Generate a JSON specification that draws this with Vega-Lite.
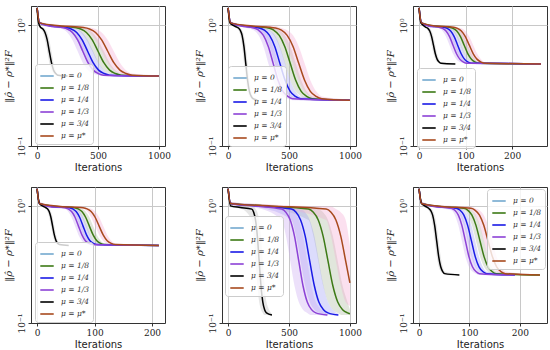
{
"$schema":"https://vega.github.io/schema/vega-lite/v6.json",
"padding":{"left":2,"top":4,"right":2,"bottom":2},
"datasets":{"d":[
{"p":1,"m":"μ = 1/8","x":0,"y":1.4,"lo":1.36,"hi":1.44},{"p":1,"m":"μ = 1/8","x":20,"y":1.05,"lo":1.02,"hi":1.08},{"p":1,"m":"μ = 1/8","x":150,"y":0.99,"lo":0.97,"hi":1.01},
{"p":1,"m":"μ = 1/8","x":310,"y":0.961,"lo":0.935,"hi":0.99},{"p":1,"m":"μ = 1/8","x":358,"y":0.935,"lo":0.875,"hi":0.961},{"p":1,"m":"μ = 1/8","x":405,"y":0.875,"lo":0.759,"hi":0.935},{"p":1,"m":"μ = 1/8","x":453,"y":0.759,"lo":0.611,"hi":0.875},{"p":1,"m":"μ = 1/8","x":500,"y":0.611,"lo":0.491,"hi":0.759},{"p":1,"m":"μ = 1/8","x":548,"y":0.491,"lo":0.426,"hi":0.611},{"p":1,"m":"μ = 1/8","x":595,"y":0.426,"lo":0.399,"hi":0.491},{"p":1,"m":"μ = 1/8","x":643,"y":0.399,"lo":0.387,"hi":0.426},{"p":1,"m":"μ = 1/8","x":690,"y":0.387,"lo":0.38,"hi":0.399},{"p":1,"m":"μ = 1/8","x":1000,"y":0.38,"lo":0.375,"hi":0.385},
{"p":1,"m":"μ = 1/4","x":0,"y":1.4,"lo":1.36,"hi":1.44},{"p":1,"m":"μ = 1/4","x":20,"y":1.05,"lo":1.02,"hi":1.08},{"p":1,"m":"μ = 1/4","x":120,"y":0.99,"lo":0.97,"hi":1.01},
{"p":1,"m":"μ = 1/4","x":235,"y":0.961,"lo":0.935,"hi":0.99},{"p":1,"m":"μ = 1/4","x":280,"y":0.935,"lo":0.875,"hi":0.961},{"p":1,"m":"μ = 1/4","x":325,"y":0.875,"lo":0.759,"hi":0.935},{"p":1,"m":"μ = 1/4","x":370,"y":0.759,"lo":0.611,"hi":0.875},{"p":1,"m":"μ = 1/4","x":415,"y":0.611,"lo":0.491,"hi":0.759},{"p":1,"m":"μ = 1/4","x":460,"y":0.491,"lo":0.426,"hi":0.611},{"p":1,"m":"μ = 1/4","x":505,"y":0.426,"lo":0.399,"hi":0.491},{"p":1,"m":"μ = 1/4","x":550,"y":0.399,"lo":0.387,"hi":0.426},{"p":1,"m":"μ = 1/4","x":595,"y":0.387,"lo":0.38,"hi":0.399},{"p":1,"m":"μ = 1/4","x":1000,"y":0.38,"lo":0.375,"hi":0.385},
{"p":1,"m":"μ = 1/3","x":0,"y":1.4,"lo":1.36,"hi":1.44},{"p":1,"m":"μ = 1/3","x":20,"y":1.05,"lo":1.02,"hi":1.08},{"p":1,"m":"μ = 1/3","x":100,"y":0.99,"lo":0.97,"hi":1.01},
{"p":1,"m":"μ = 1/3","x":205,"y":0.961,"lo":0.935,"hi":0.99},{"p":1,"m":"μ = 1/3","x":248,"y":0.935,"lo":0.875,"hi":0.961},{"p":1,"m":"μ = 1/3","x":290,"y":0.875,"lo":0.759,"hi":0.935},{"p":1,"m":"μ = 1/3","x":333,"y":0.759,"lo":0.611,"hi":0.875},{"p":1,"m":"μ = 1/3","x":375,"y":0.611,"lo":0.491,"hi":0.759},{"p":1,"m":"μ = 1/3","x":418,"y":0.491,"lo":0.426,"hi":0.611},{"p":1,"m":"μ = 1/3","x":460,"y":0.426,"lo":0.399,"hi":0.491},{"p":1,"m":"μ = 1/3","x":503,"y":0.399,"lo":0.387,"hi":0.426},{"p":1,"m":"μ = 1/3","x":545,"y":0.387,"lo":0.38,"hi":0.399},{"p":1,"m":"μ = 1/3","x":1000,"y":0.38,"lo":0.375,"hi":0.385},
{"p":1,"m":"μ = 3/4","x":0,"y":1.4,"lo":1.36,"hi":1.44},{"p":1,"m":"μ = 3/4","x":12,"y":1.05,"lo":1.02,"hi":1.08},
{"p":1,"m":"μ = 3/4","x":30,"y":0.961,"lo":0.935,"hi":0.99},{"p":1,"m":"μ = 3/4","x":48,"y":0.935,"lo":0.875,"hi":0.961},{"p":1,"m":"μ = 3/4","x":65,"y":0.875,"lo":0.759,"hi":0.935},{"p":1,"m":"μ = 3/4","x":83,"y":0.759,"lo":0.611,"hi":0.875},{"p":1,"m":"μ = 3/4","x":100,"y":0.611,"lo":0.491,"hi":0.759},{"p":1,"m":"μ = 3/4","x":118,"y":0.491,"lo":0.426,"hi":0.611},{"p":1,"m":"μ = 3/4","x":135,"y":0.426,"lo":0.399,"hi":0.491},{"p":1,"m":"μ = 3/4","x":153,"y":0.399,"lo":0.387,"hi":0.426},{"p":1,"m":"μ = 3/4","x":170,"y":0.387,"lo":0.38,"hi":0.399},{"p":1,"m":"μ = 3/4","x":250,"y":0.38,"lo":0.375,"hi":0.385},
{"p":1,"m":"μ = μ*","x":0,"y":1.4,"lo":1.36,"hi":1.44},{"p":1,"m":"μ = μ*","x":20,"y":1.05,"lo":1.02,"hi":1.08},{"p":1,"m":"μ = μ*","x":200,"y":0.99,"lo":0.97,"hi":1.01},
{"p":1,"m":"μ = μ*","x":380,"y":0.961,"lo":0.935,"hi":0.99},{"p":1,"m":"μ = μ*","x":430,"y":0.935,"lo":0.875,"hi":0.961},{"p":1,"m":"μ = μ*","x":480,"y":0.875,"lo":0.759,"hi":0.935},{"p":1,"m":"μ = μ*","x":530,"y":0.759,"lo":0.611,"hi":0.875},{"p":1,"m":"μ = μ*","x":580,"y":0.611,"lo":0.491,"hi":0.759},{"p":1,"m":"μ = μ*","x":630,"y":0.491,"lo":0.426,"hi":0.611},{"p":1,"m":"μ = μ*","x":680,"y":0.426,"lo":0.399,"hi":0.491},{"p":1,"m":"μ = μ*","x":730,"y":0.399,"lo":0.387,"hi":0.426},{"p":1,"m":"μ = μ*","x":780,"y":0.387,"lo":0.38,"hi":0.399},{"p":1,"m":"μ = μ*","x":1000,"y":0.38,"lo":0.375,"hi":0.385},

{"p":2,"m":"μ = 1/8","x":0,"y":1.4,"lo":1.36,"hi":1.44},{"p":2,"m":"μ = 1/8","x":20,"y":1.05,"lo":1.02,"hi":1.08},{"p":2,"m":"μ = 1/8","x":150,"y":0.99,"lo":0.97,"hi":1.01},
{"p":2,"m":"μ = 1/8","x":330,"y":0.953,"lo":0.913,"hi":0.99},{"p":2,"m":"μ = 1/8","x":375,"y":0.913,"lo":0.828,"hi":0.953},{"p":2,"m":"μ = 1/8","x":420,"y":0.828,"lo":0.67,"hi":0.913},{"p":2,"m":"μ = 1/8","x":465,"y":0.67,"lo":0.485,"hi":0.828},{"p":2,"m":"μ = 1/8","x":510,"y":0.485,"lo":0.351,"hi":0.67},{"p":2,"m":"μ = 1/8","x":555,"y":0.351,"lo":0.284,"hi":0.485},{"p":2,"m":"μ = 1/8","x":600,"y":0.284,"lo":0.258,"hi":0.351},{"p":2,"m":"μ = 1/8","x":645,"y":0.258,"lo":0.247,"hi":0.284},{"p":2,"m":"μ = 1/8","x":690,"y":0.247,"lo":0.24,"hi":0.258},{"p":2,"m":"μ = 1/8","x":1000,"y":0.24,"lo":0.236,"hi":0.244},
{"p":2,"m":"μ = 1/4","x":0,"y":1.4,"lo":1.36,"hi":1.44},{"p":2,"m":"μ = 1/4","x":20,"y":1.05,"lo":1.02,"hi":1.08},{"p":2,"m":"μ = 1/4","x":130,"y":0.99,"lo":0.97,"hi":1.01},
{"p":2,"m":"μ = 1/4","x":255,"y":0.953,"lo":0.913,"hi":0.99},{"p":2,"m":"μ = 1/4","x":298,"y":0.913,"lo":0.828,"hi":0.953},{"p":2,"m":"μ = 1/4","x":340,"y":0.828,"lo":0.67,"hi":0.913},{"p":2,"m":"μ = 1/4","x":383,"y":0.67,"lo":0.485,"hi":0.828},{"p":2,"m":"μ = 1/4","x":425,"y":0.485,"lo":0.351,"hi":0.67},{"p":2,"m":"μ = 1/4","x":468,"y":0.351,"lo":0.284,"hi":0.485},{"p":2,"m":"μ = 1/4","x":510,"y":0.284,"lo":0.258,"hi":0.351},{"p":2,"m":"μ = 1/4","x":553,"y":0.258,"lo":0.247,"hi":0.284},{"p":2,"m":"μ = 1/4","x":595,"y":0.247,"lo":0.24,"hi":0.258},{"p":2,"m":"μ = 1/4","x":1000,"y":0.24,"lo":0.236,"hi":0.244},
{"p":2,"m":"μ = 1/3","x":0,"y":1.4,"lo":1.36,"hi":1.44},{"p":2,"m":"μ = 1/3","x":20,"y":1.05,"lo":1.02,"hi":1.08},{"p":2,"m":"μ = 1/3","x":110,"y":0.99,"lo":0.97,"hi":1.01},
{"p":2,"m":"μ = 1/3","x":210,"y":0.953,"lo":0.913,"hi":0.99},{"p":2,"m":"μ = 1/3","x":250,"y":0.913,"lo":0.828,"hi":0.953},{"p":2,"m":"μ = 1/3","x":290,"y":0.828,"lo":0.67,"hi":0.913},{"p":2,"m":"μ = 1/3","x":330,"y":0.67,"lo":0.485,"hi":0.828},{"p":2,"m":"μ = 1/3","x":370,"y":0.485,"lo":0.351,"hi":0.67},{"p":2,"m":"μ = 1/3","x":410,"y":0.351,"lo":0.284,"hi":0.485},{"p":2,"m":"μ = 1/3","x":450,"y":0.284,"lo":0.258,"hi":0.351},{"p":2,"m":"μ = 1/3","x":490,"y":0.258,"lo":0.247,"hi":0.284},{"p":2,"m":"μ = 1/3","x":530,"y":0.247,"lo":0.24,"hi":0.258},{"p":2,"m":"μ = 1/3","x":1000,"y":0.24,"lo":0.236,"hi":0.244},
{"p":2,"m":"μ = 3/4","x":0,"y":1.4,"lo":1.36,"hi":1.44},{"p":2,"m":"μ = 3/4","x":15,"y":1.05,"lo":1.02,"hi":1.08},{"p":2,"m":"μ = 3/4","x":50,"y":0.99,"lo":0.97,"hi":1.01},
{"p":2,"m":"μ = 3/4","x":85,"y":0.953,"lo":0.913,"hi":0.99},{"p":2,"m":"μ = 3/4","x":100,"y":0.913,"lo":0.828,"hi":0.953},{"p":2,"m":"μ = 3/4","x":115,"y":0.828,"lo":0.67,"hi":0.913},{"p":2,"m":"μ = 3/4","x":130,"y":0.67,"lo":0.485,"hi":0.828},{"p":2,"m":"μ = 3/4","x":145,"y":0.485,"lo":0.351,"hi":0.67},{"p":2,"m":"μ = 3/4","x":160,"y":0.351,"lo":0.284,"hi":0.485},{"p":2,"m":"μ = 3/4","x":175,"y":0.284,"lo":0.258,"hi":0.351},{"p":2,"m":"μ = 3/4","x":190,"y":0.258,"lo":0.247,"hi":0.284},{"p":2,"m":"μ = 3/4","x":205,"y":0.247,"lo":0.24,"hi":0.258},{"p":2,"m":"μ = 3/4","x":240,"y":0.24,"lo":0.236,"hi":0.244},
{"p":2,"m":"μ = μ*","x":0,"y":1.4,"lo":1.36,"hi":1.44},{"p":2,"m":"μ = μ*","x":20,"y":1.05,"lo":1.02,"hi":1.08},{"p":2,"m":"μ = μ*","x":200,"y":0.99,"lo":0.97,"hi":1.01},
{"p":2,"m":"μ = μ*","x":390,"y":0.953,"lo":0.913,"hi":0.99},{"p":2,"m":"μ = μ*","x":438,"y":0.913,"lo":0.828,"hi":0.953},{"p":2,"m":"μ = μ*","x":485,"y":0.828,"lo":0.67,"hi":0.913},{"p":2,"m":"μ = μ*","x":533,"y":0.67,"lo":0.485,"hi":0.828},{"p":2,"m":"μ = μ*","x":580,"y":0.485,"lo":0.351,"hi":0.67},{"p":2,"m":"μ = μ*","x":628,"y":0.351,"lo":0.284,"hi":0.485},{"p":2,"m":"μ = μ*","x":675,"y":0.284,"lo":0.258,"hi":0.351},{"p":2,"m":"μ = μ*","x":723,"y":0.258,"lo":0.247,"hi":0.284},{"p":2,"m":"μ = μ*","x":770,"y":0.247,"lo":0.24,"hi":0.258},{"p":2,"m":"μ = μ*","x":1000,"y":0.24,"lo":0.236,"hi":0.244},

{"p":3,"m":"μ = 1/8","x":0,"y":1.4,"lo":1.36,"hi":1.44},{"p":3,"m":"μ = 1/8","x":5,"y":1.05,"lo":1.02,"hi":1.08},{"p":3,"m":"μ = 1/8","x":30,"y":0.99,"lo":0.97,"hi":1.01},
{"p":3,"m":"μ = 1/8","x":65,"y":0.966,"lo":0.946,"hi":0.99},{"p":3,"m":"μ = 1/8","x":73,"y":0.946,"lo":0.899,"hi":0.966},{"p":3,"m":"μ = 1/8","x":81,"y":0.899,"lo":0.807,"hi":0.946},{"p":3,"m":"μ = 1/8","x":89,"y":0.807,"lo":0.686,"hi":0.899},{"p":3,"m":"μ = 1/8","x":97,"y":0.686,"lo":0.582,"hi":0.807},{"p":3,"m":"μ = 1/8","x":105,"y":0.582,"lo":0.523,"hi":0.686},{"p":3,"m":"μ = 1/8","x":113,"y":0.523,"lo":0.497,"hi":0.582},{"p":3,"m":"μ = 1/8","x":121,"y":0.497,"lo":0.486,"hi":0.523},{"p":3,"m":"μ = 1/8","x":129,"y":0.486,"lo":0.48,"hi":0.497},{"p":3,"m":"μ = 1/8","x":262,"y":0.48,"lo":0.474,"hi":0.486},
{"p":3,"m":"μ = 1/4","x":0,"y":1.4,"lo":1.36,"hi":1.44},{"p":3,"m":"μ = 1/4","x":5,"y":1.05,"lo":1.02,"hi":1.08},{"p":3,"m":"μ = 1/4","x":25,"y":0.99,"lo":0.97,"hi":1.01},
{"p":3,"m":"μ = 1/4","x":53,"y":0.966,"lo":0.946,"hi":0.99},{"p":3,"m":"μ = 1/4","x":60.5,"y":0.946,"lo":0.899,"hi":0.966},{"p":3,"m":"μ = 1/4","x":68,"y":0.899,"lo":0.807,"hi":0.946},{"p":3,"m":"μ = 1/4","x":75.5,"y":0.807,"lo":0.686,"hi":0.899},{"p":3,"m":"μ = 1/4","x":83,"y":0.686,"lo":0.582,"hi":0.807},{"p":3,"m":"μ = 1/4","x":90.5,"y":0.582,"lo":0.523,"hi":0.686},{"p":3,"m":"μ = 1/4","x":98,"y":0.523,"lo":0.497,"hi":0.582},{"p":3,"m":"μ = 1/4","x":105.5,"y":0.497,"lo":0.486,"hi":0.523},{"p":3,"m":"μ = 1/4","x":113,"y":0.486,"lo":0.48,"hi":0.497},{"p":3,"m":"μ = 1/4","x":262,"y":0.48,"lo":0.474,"hi":0.486},
{"p":3,"m":"μ = 1/3","x":0,"y":1.4,"lo":1.36,"hi":1.44},{"p":3,"m":"μ = 1/3","x":5,"y":1.05,"lo":1.02,"hi":1.08},{"p":3,"m":"μ = 1/3","x":20,"y":0.99,"lo":0.97,"hi":1.01},
{"p":3,"m":"μ = 1/3","x":43,"y":0.966,"lo":0.946,"hi":0.99},{"p":3,"m":"μ = 1/3","x":50.5,"y":0.946,"lo":0.899,"hi":0.966},{"p":3,"m":"μ = 1/3","x":58,"y":0.899,"lo":0.807,"hi":0.946},{"p":3,"m":"μ = 1/3","x":65.5,"y":0.807,"lo":0.686,"hi":0.899},{"p":3,"m":"μ = 1/3","x":73,"y":0.686,"lo":0.582,"hi":0.807},{"p":3,"m":"μ = 1/3","x":80.5,"y":0.582,"lo":0.523,"hi":0.686},{"p":3,"m":"μ = 1/3","x":88,"y":0.523,"lo":0.497,"hi":0.582},{"p":3,"m":"μ = 1/3","x":95.5,"y":0.497,"lo":0.486,"hi":0.523},{"p":3,"m":"μ = 1/3","x":103,"y":0.486,"lo":0.48,"hi":0.497},{"p":3,"m":"μ = 1/3","x":262,"y":0.48,"lo":0.474,"hi":0.486},
{"p":3,"m":"μ = 3/4","x":0,"y":1.4,"lo":1.36,"hi":1.44},{"p":3,"m":"μ = 3/4","x":4,"y":1.05,"lo":1.02,"hi":1.08},
{"p":3,"m":"μ = 3/4","x":15,"y":0.966,"lo":0.946,"hi":0.99},{"p":3,"m":"μ = 3/4","x":19,"y":0.946,"lo":0.899,"hi":0.966},{"p":3,"m":"μ = 3/4","x":23,"y":0.899,"lo":0.807,"hi":0.946},{"p":3,"m":"μ = 3/4","x":27,"y":0.807,"lo":0.686,"hi":0.899},{"p":3,"m":"μ = 3/4","x":31,"y":0.686,"lo":0.582,"hi":0.807},{"p":3,"m":"μ = 3/4","x":35,"y":0.582,"lo":0.523,"hi":0.686},{"p":3,"m":"μ = 3/4","x":39,"y":0.523,"lo":0.497,"hi":0.582},{"p":3,"m":"μ = 3/4","x":43,"y":0.497,"lo":0.486,"hi":0.523},{"p":3,"m":"μ = 3/4","x":47,"y":0.486,"lo":0.48,"hi":0.497},{"p":3,"m":"μ = 3/4","x":78,"y":0.48,"lo":0.474,"hi":0.486},
{"p":3,"m":"μ = μ*","x":0,"y":1.4,"lo":1.36,"hi":1.44},{"p":3,"m":"μ = μ*","x":5,"y":1.05,"lo":1.02,"hi":1.08},{"p":3,"m":"μ = μ*","x":35,"y":0.99,"lo":0.97,"hi":1.01},
{"p":3,"m":"μ = μ*","x":74,"y":0.966,"lo":0.946,"hi":0.99},{"p":3,"m":"μ = μ*","x":82.5,"y":0.946,"lo":0.899,"hi":0.966},{"p":3,"m":"μ = μ*","x":91,"y":0.899,"lo":0.807,"hi":0.946},{"p":3,"m":"μ = μ*","x":99.5,"y":0.807,"lo":0.686,"hi":0.899},{"p":3,"m":"μ = μ*","x":108,"y":0.686,"lo":0.582,"hi":0.807},{"p":3,"m":"μ = μ*","x":116.5,"y":0.582,"lo":0.523,"hi":0.686},{"p":3,"m":"μ = μ*","x":125,"y":0.523,"lo":0.497,"hi":0.582},{"p":3,"m":"μ = μ*","x":133.5,"y":0.497,"lo":0.486,"hi":0.523},{"p":3,"m":"μ = μ*","x":142,"y":0.486,"lo":0.48,"hi":0.497},{"p":3,"m":"μ = μ*","x":262,"y":0.48,"lo":0.474,"hi":0.486},

{"p":4,"m":"μ = 1/8","x":0,"y":1.4,"lo":1.36,"hi":1.44},{"p":4,"m":"μ = 1/8","x":4,"y":1.05,"lo":1.02,"hi":1.08},{"p":4,"m":"μ = 1/8","x":30,"y":0.99,"lo":0.97,"hi":1.01},
{"p":4,"m":"μ = 1/8","x":65,"y":0.965,"lo":0.944,"hi":0.99},{"p":4,"m":"μ = 1/8","x":71.5,"y":0.944,"lo":0.895,"hi":0.965},{"p":4,"m":"μ = 1/8","x":78,"y":0.895,"lo":0.8,"hi":0.944},{"p":4,"m":"μ = 1/8","x":84.5,"y":0.8,"lo":0.672,"hi":0.895},{"p":4,"m":"μ = 1/8","x":91,"y":0.672,"lo":0.565,"hi":0.8},{"p":4,"m":"μ = 1/8","x":97.5,"y":0.565,"lo":0.504,"hi":0.672},{"p":4,"m":"μ = 1/8","x":104,"y":0.504,"lo":0.478,"hi":0.565},{"p":4,"m":"μ = 1/8","x":110.5,"y":0.478,"lo":0.468,"hi":0.504},{"p":4,"m":"μ = 1/8","x":117,"y":0.468,"lo":0.46,"hi":0.478},{"p":4,"m":"μ = 1/8","x":212,"y":0.46,"lo":0.455,"hi":0.465},
{"p":4,"m":"μ = 1/4","x":0,"y":1.4,"lo":1.36,"hi":1.44},{"p":4,"m":"μ = 1/4","x":4,"y":1.05,"lo":1.02,"hi":1.08},{"p":4,"m":"μ = 1/4","x":25,"y":0.99,"lo":0.97,"hi":1.01},
{"p":4,"m":"μ = 1/4","x":56,"y":0.965,"lo":0.944,"hi":0.99},{"p":4,"m":"μ = 1/4","x":62,"y":0.944,"lo":0.895,"hi":0.965},{"p":4,"m":"μ = 1/4","x":68,"y":0.895,"lo":0.8,"hi":0.944},{"p":4,"m":"μ = 1/4","x":74,"y":0.8,"lo":0.672,"hi":0.895},{"p":4,"m":"μ = 1/4","x":80,"y":0.672,"lo":0.565,"hi":0.8},{"p":4,"m":"μ = 1/4","x":86,"y":0.565,"lo":0.504,"hi":0.672},{"p":4,"m":"μ = 1/4","x":92,"y":0.504,"lo":0.478,"hi":0.565},{"p":4,"m":"μ = 1/4","x":98,"y":0.478,"lo":0.468,"hi":0.504},{"p":4,"m":"μ = 1/4","x":104,"y":0.468,"lo":0.46,"hi":0.478},{"p":4,"m":"μ = 1/4","x":212,"y":0.46,"lo":0.455,"hi":0.465},
{"p":4,"m":"μ = 1/3","x":0,"y":1.4,"lo":1.36,"hi":1.44},{"p":4,"m":"μ = 1/3","x":4,"y":1.05,"lo":1.02,"hi":1.08},{"p":4,"m":"μ = 1/3","x":20,"y":0.99,"lo":0.97,"hi":1.01},
{"p":4,"m":"μ = 1/3","x":48,"y":0.965,"lo":0.944,"hi":0.99},{"p":4,"m":"μ = 1/3","x":54,"y":0.944,"lo":0.895,"hi":0.965},{"p":4,"m":"μ = 1/3","x":60,"y":0.895,"lo":0.8,"hi":0.944},{"p":4,"m":"μ = 1/3","x":66,"y":0.8,"lo":0.672,"hi":0.895},{"p":4,"m":"μ = 1/3","x":72,"y":0.672,"lo":0.565,"hi":0.8},{"p":4,"m":"μ = 1/3","x":78,"y":0.565,"lo":0.504,"hi":0.672},{"p":4,"m":"μ = 1/3","x":84,"y":0.504,"lo":0.478,"hi":0.565},{"p":4,"m":"μ = 1/3","x":90,"y":0.478,"lo":0.468,"hi":0.504},{"p":4,"m":"μ = 1/3","x":96,"y":0.468,"lo":0.46,"hi":0.478},{"p":4,"m":"μ = 1/3","x":212,"y":0.46,"lo":0.455,"hi":0.465},
{"p":4,"m":"μ = 3/4","x":0,"y":1.4,"lo":1.36,"hi":1.44},{"p":4,"m":"μ = 3/4","x":4,"y":1.05,"lo":1.02,"hi":1.08},
{"p":4,"m":"μ = 3/4","x":15,"y":0.965,"lo":0.944,"hi":0.99},{"p":4,"m":"μ = 3/4","x":18,"y":0.944,"lo":0.895,"hi":0.965},{"p":4,"m":"μ = 3/4","x":21,"y":0.895,"lo":0.8,"hi":0.944},{"p":4,"m":"μ = 3/4","x":24,"y":0.8,"lo":0.672,"hi":0.895},{"p":4,"m":"μ = 3/4","x":27,"y":0.672,"lo":0.565,"hi":0.8},{"p":4,"m":"μ = 3/4","x":30,"y":0.565,"lo":0.504,"hi":0.672},{"p":4,"m":"μ = 3/4","x":33,"y":0.504,"lo":0.478,"hi":0.565},{"p":4,"m":"μ = 3/4","x":36,"y":0.478,"lo":0.468,"hi":0.504},{"p":4,"m":"μ = 3/4","x":39,"y":0.468,"lo":0.46,"hi":0.478},{"p":4,"m":"μ = 3/4","x":55,"y":0.46,"lo":0.455,"hi":0.465},
{"p":4,"m":"μ = μ*","x":0,"y":1.4,"lo":1.36,"hi":1.44},{"p":4,"m":"μ = μ*","x":4,"y":1.05,"lo":1.02,"hi":1.08},{"p":4,"m":"μ = μ*","x":40,"y":0.99,"lo":0.97,"hi":1.01},
{"p":4,"m":"μ = μ*","x":80,"y":0.965,"lo":0.944,"hi":0.99},{"p":4,"m":"μ = μ*","x":87,"y":0.944,"lo":0.895,"hi":0.965},{"p":4,"m":"μ = μ*","x":94,"y":0.895,"lo":0.8,"hi":0.944},{"p":4,"m":"μ = μ*","x":101,"y":0.8,"lo":0.672,"hi":0.895},{"p":4,"m":"μ = μ*","x":108,"y":0.672,"lo":0.565,"hi":0.8},{"p":4,"m":"μ = μ*","x":115,"y":0.565,"lo":0.504,"hi":0.672},{"p":4,"m":"μ = μ*","x":122,"y":0.504,"lo":0.478,"hi":0.565},{"p":4,"m":"μ = μ*","x":129,"y":0.478,"lo":0.468,"hi":0.504},{"p":4,"m":"μ = μ*","x":136,"y":0.468,"lo":0.46,"hi":0.478},{"p":4,"m":"μ = μ*","x":212,"y":0.46,"lo":0.455,"hi":0.465},

{"p":5,"m":"μ = 1/8","x":0,"y":1.4,"lo":1.36,"hi":1.44},{"p":5,"m":"μ = 1/8","x":20,"y":1.05,"lo":1.02,"hi":1.08},{"p":5,"m":"μ = 1/8","x":300,"y":1.0,"lo":0.97,"hi":1.03},
{"p":5,"m":"μ = 1/8","x":660,"y":0.939,"lo":0.759,"hi":0.99},{"p":5,"m":"μ = 1/8","x":700,"y":0.881,"lo":0.552,"hi":0.99},{"p":5,"m":"μ = 1/8","x":740,"y":0.759,"lo":0.339,"hi":0.939},{"p":5,"m":"μ = 1/8","x":780,"y":0.552,"lo":0.208,"hi":0.881},{"p":5,"m":"μ = 1/8","x":820,"y":0.339,"lo":0.151,"hi":0.759},{"p":5,"m":"μ = 1/8","x":860,"y":0.208,"lo":0.13,"hi":0.552},{"p":5,"m":"μ = 1/8","x":900,"y":0.151,"lo":0.122,"hi":0.339},{"p":5,"m":"μ = 1/8","x":940,"y":0.13,"lo":0.117,"hi":0.208},{"p":5,"m":"μ = 1/8","x":980,"y":0.122,"lo":0.117,"hi":0.151},{"p":5,"m":"μ = 1/8","x":1000,"y":0.12,"lo":0.117,"hi":0.13},
{"p":5,"m":"μ = 1/4","x":0,"y":1.4,"lo":1.36,"hi":1.44},{"p":5,"m":"μ = 1/4","x":20,"y":1.05,"lo":1.02,"hi":1.08},{"p":5,"m":"μ = 1/4","x":250,"y":1.0,"lo":0.97,"hi":1.03},
{"p":5,"m":"μ = 1/4","x":520,"y":0.939,"lo":0.759,"hi":0.99},{"p":5,"m":"μ = 1/4","x":558,"y":0.881,"lo":0.552,"hi":0.99},{"p":5,"m":"μ = 1/4","x":595,"y":0.759,"lo":0.339,"hi":0.939},{"p":5,"m":"μ = 1/4","x":633,"y":0.552,"lo":0.208,"hi":0.881},{"p":5,"m":"μ = 1/4","x":670,"y":0.339,"lo":0.151,"hi":0.759},{"p":5,"m":"μ = 1/4","x":708,"y":0.208,"lo":0.13,"hi":0.552},{"p":5,"m":"μ = 1/4","x":745,"y":0.151,"lo":0.122,"hi":0.339},{"p":5,"m":"μ = 1/4","x":783,"y":0.13,"lo":0.117,"hi":0.208},{"p":5,"m":"μ = 1/4","x":820,"y":0.122,"lo":0.117,"hi":0.151},{"p":5,"m":"μ = 1/4","x":905,"y":0.117,"lo":0.114,"hi":0.12},
{"p":5,"m":"μ = 1/3","x":0,"y":1.4,"lo":1.36,"hi":1.44},{"p":5,"m":"μ = 1/3","x":20,"y":1.05,"lo":1.02,"hi":1.08},{"p":5,"m":"μ = 1/3","x":220,"y":1.0,"lo":0.97,"hi":1.03},
{"p":5,"m":"μ = 1/3","x":440,"y":0.939,"lo":0.759,"hi":0.99},{"p":5,"m":"μ = 1/3","x":475,"y":0.881,"lo":0.552,"hi":0.99},{"p":5,"m":"μ = 1/3","x":510,"y":0.759,"lo":0.339,"hi":0.939},{"p":5,"m":"μ = 1/3","x":545,"y":0.552,"lo":0.208,"hi":0.881},{"p":5,"m":"μ = 1/3","x":580,"y":0.339,"lo":0.151,"hi":0.759},{"p":5,"m":"μ = 1/3","x":615,"y":0.208,"lo":0.13,"hi":0.552},{"p":5,"m":"μ = 1/3","x":650,"y":0.151,"lo":0.122,"hi":0.339},{"p":5,"m":"μ = 1/3","x":685,"y":0.13,"lo":0.117,"hi":0.208},{"p":5,"m":"μ = 1/3","x":720,"y":0.122,"lo":0.117,"hi":0.151},{"p":5,"m":"μ = 1/3","x":815,"y":0.117,"lo":0.114,"hi":0.12},
{"p":5,"m":"μ = 3/4","x":0,"y":1.4,"lo":1.36,"hi":1.44},{"p":5,"m":"μ = 3/4","x":20,"y":1.0,"lo":0.97,"hi":1.03},{"p":5,"m":"μ = 3/4","x":100,"y":0.97,"lo":0.95,"hi":0.99},
{"p":5,"m":"μ = 3/4","x":195,"y":0.939,"lo":0.759,"hi":0.99},{"p":5,"m":"μ = 3/4","x":210,"y":0.881,"lo":0.552,"hi":0.99},{"p":5,"m":"μ = 3/4","x":225,"y":0.759,"lo":0.339,"hi":0.939},{"p":5,"m":"μ = 3/4","x":240,"y":0.552,"lo":0.208,"hi":0.881},{"p":5,"m":"μ = 3/4","x":255,"y":0.339,"lo":0.151,"hi":0.759},{"p":5,"m":"μ = 3/4","x":270,"y":0.208,"lo":0.13,"hi":0.552},{"p":5,"m":"μ = 3/4","x":285,"y":0.151,"lo":0.122,"hi":0.339},{"p":5,"m":"μ = 3/4","x":300,"y":0.13,"lo":0.117,"hi":0.208},{"p":5,"m":"μ = 3/4","x":315,"y":0.122,"lo":0.117,"hi":0.151},{"p":5,"m":"μ = 3/4","x":360,"y":0.117,"lo":0.114,"hi":0.12},
{"p":5,"m":"μ = μ*","x":0,"y":1.4,"lo":1.36,"hi":1.44},{"p":5,"m":"μ = μ*","x":20,"y":1.05,"lo":1.02,"hi":1.08},{"p":5,"m":"μ = μ*","x":350,"y":1.0,"lo":0.97,"hi":1.03},
{"p":5,"m":"μ = μ*","x":805,"y":0.939,"lo":0.759,"hi":0.99},{"p":5,"m":"μ = μ*","x":845,"y":0.881,"lo":0.552,"hi":0.99},{"p":5,"m":"μ = μ*","x":885,"y":0.759,"lo":0.339,"hi":0.939},{"p":5,"m":"μ = μ*","x":925,"y":0.552,"lo":0.208,"hi":0.881},{"p":5,"m":"μ = μ*","x":965,"y":0.339,"lo":0.151,"hi":0.759},{"p":5,"m":"μ = μ*","x":1000,"y":0.22,"lo":0.14,"hi":0.45},

{"p":6,"m":"μ = 1/8","x":0,"y":1.4,"lo":1.36,"hi":1.44},{"p":6,"m":"μ = 1/8","x":5,"y":1.05,"lo":1.02,"hi":1.08},{"p":6,"m":"μ = 1/8","x":40,"y":0.99,"lo":0.97,"hi":1.01},
{"p":6,"m":"μ = 1/8","x":89,"y":0.954,"lo":0.917,"hi":0.99},{"p":6,"m":"μ = 1/8","x":97,"y":0.917,"lo":0.834,"hi":0.954},{"p":6,"m":"μ = 1/8","x":105,"y":0.834,"lo":0.682,"hi":0.917},{"p":6,"m":"μ = 1/8","x":113,"y":0.682,"lo":0.502,"hi":0.834},{"p":6,"m":"μ = 1/8","x":121,"y":0.502,"lo":0.369,"hi":0.682},{"p":6,"m":"μ = 1/8","x":129,"y":0.369,"lo":0.302,"hi":0.502},{"p":6,"m":"μ = 1/8","x":137,"y":0.302,"lo":0.275,"hi":0.369},{"p":6,"m":"μ = 1/8","x":145,"y":0.275,"lo":0.264,"hi":0.302},{"p":6,"m":"μ = 1/8","x":153,"y":0.264,"lo":0.257,"hi":0.275},{"p":6,"m":"μ = 1/8","x":240,"y":0.257,"lo":0.253,"hi":0.261},
{"p":6,"m":"μ = 1/4","x":0,"y":1.4,"lo":1.36,"hi":1.44},{"p":6,"m":"μ = 1/4","x":5,"y":1.05,"lo":1.02,"hi":1.08},{"p":6,"m":"μ = 1/4","x":35,"y":0.99,"lo":0.97,"hi":1.01},
{"p":6,"m":"μ = 1/4","x":74,"y":0.954,"lo":0.917,"hi":0.99},{"p":6,"m":"μ = 1/4","x":81.5,"y":0.917,"lo":0.834,"hi":0.954},{"p":6,"m":"μ = 1/4","x":89,"y":0.834,"lo":0.682,"hi":0.917},{"p":6,"m":"μ = 1/4","x":96.5,"y":0.682,"lo":0.502,"hi":0.834},{"p":6,"m":"μ = 1/4","x":104,"y":0.502,"lo":0.369,"hi":0.682},{"p":6,"m":"μ = 1/4","x":111.5,"y":0.369,"lo":0.302,"hi":0.502},{"p":6,"m":"μ = 1/4","x":119,"y":0.302,"lo":0.275,"hi":0.369},{"p":6,"m":"μ = 1/4","x":126.5,"y":0.275,"lo":0.264,"hi":0.302},{"p":6,"m":"μ = 1/4","x":134,"y":0.264,"lo":0.257,"hi":0.275},{"p":6,"m":"μ = 1/4","x":190,"y":0.257,"lo":0.253,"hi":0.261},
{"p":6,"m":"μ = 1/3","x":0,"y":1.4,"lo":1.36,"hi":1.44},{"p":6,"m":"μ = 1/3","x":5,"y":1.05,"lo":1.02,"hi":1.08},{"p":6,"m":"μ = 1/3","x":30,"y":0.99,"lo":0.97,"hi":1.01},
{"p":6,"m":"μ = 1/3","x":64,"y":0.954,"lo":0.917,"hi":0.99},{"p":6,"m":"μ = 1/3","x":71,"y":0.917,"lo":0.834,"hi":0.954},{"p":6,"m":"μ = 1/3","x":78,"y":0.834,"lo":0.682,"hi":0.917},{"p":6,"m":"μ = 1/3","x":85,"y":0.682,"lo":0.502,"hi":0.834},{"p":6,"m":"μ = 1/3","x":92,"y":0.502,"lo":0.369,"hi":0.682},{"p":6,"m":"μ = 1/3","x":99,"y":0.369,"lo":0.302,"hi":0.502},{"p":6,"m":"μ = 1/3","x":106,"y":0.302,"lo":0.275,"hi":0.369},{"p":6,"m":"μ = 1/3","x":113,"y":0.275,"lo":0.264,"hi":0.302},{"p":6,"m":"μ = 1/3","x":120,"y":0.264,"lo":0.257,"hi":0.275},{"p":6,"m":"μ = 1/3","x":190,"y":0.257,"lo":0.253,"hi":0.261},
{"p":6,"m":"μ = 3/4","x":0,"y":1.4,"lo":1.36,"hi":1.44},{"p":6,"m":"μ = 3/4","x":5,"y":1.05,"lo":1.02,"hi":1.08},
{"p":6,"m":"μ = 3/4","x":19,"y":0.954,"lo":0.917,"hi":0.99},{"p":6,"m":"μ = 3/4","x":23,"y":0.917,"lo":0.834,"hi":0.954},{"p":6,"m":"μ = 3/4","x":27,"y":0.834,"lo":0.682,"hi":0.917},{"p":6,"m":"μ = 3/4","x":31,"y":0.682,"lo":0.502,"hi":0.834},{"p":6,"m":"μ = 3/4","x":35,"y":0.502,"lo":0.369,"hi":0.682},{"p":6,"m":"μ = 3/4","x":39,"y":0.369,"lo":0.302,"hi":0.502},{"p":6,"m":"μ = 3/4","x":43,"y":0.302,"lo":0.275,"hi":0.369},{"p":6,"m":"μ = 3/4","x":47,"y":0.275,"lo":0.264,"hi":0.302},{"p":6,"m":"μ = 3/4","x":51,"y":0.264,"lo":0.257,"hi":0.275},{"p":6,"m":"μ = 3/4","x":80,"y":0.257,"lo":0.253,"hi":0.261},
{"p":6,"m":"μ = μ*","x":0,"y":1.4,"lo":1.36,"hi":1.44},{"p":6,"m":"μ = μ*","x":5,"y":1.05,"lo":1.02,"hi":1.08},{"p":6,"m":"μ = μ*","x":45,"y":0.99,"lo":0.97,"hi":1.01},
{"p":6,"m":"μ = μ*","x":103,"y":0.954,"lo":0.917,"hi":0.99},{"p":6,"m":"μ = μ*","x":111.5,"y":0.917,"lo":0.834,"hi":0.954},{"p":6,"m":"μ = μ*","x":120,"y":0.834,"lo":0.682,"hi":0.917},{"p":6,"m":"μ = μ*","x":128.5,"y":0.682,"lo":0.502,"hi":0.834},{"p":6,"m":"μ = μ*","x":137,"y":0.502,"lo":0.369,"hi":0.682},{"p":6,"m":"μ = μ*","x":145.5,"y":0.369,"lo":0.302,"hi":0.502},{"p":6,"m":"μ = μ*","x":154,"y":0.302,"lo":0.275,"hi":0.369},{"p":6,"m":"μ = μ*","x":162.5,"y":0.275,"lo":0.264,"hi":0.302},{"p":6,"m":"μ = μ*","x":171,"y":0.264,"lo":0.257,"hi":0.275},{"p":6,"m":"μ = μ*","x":240,"y":0.257,"lo":0.253,"hi":0.261}
]},
"data":{"name":"d"},
"columns":3,
"spacing":{"row":12,"column":22},
"resolve":{"scale":{"x":"independent","color":"independent","fill":"independent"},"axis":{"x":"independent","y":"independent"},"legend":{"color":"independent","fill":"independent"}},
"concat":[
{"width":134,"height":140,"transform":[{"filter":"datum.p==1"}],
 "encoding":{"x":{"field":"x","type":"quantitative","scale":{"domain":[-50,1050],"nice":false,"zero":false},"axis":{"values":[0,500,1000],"format":"d","title":"Iterations"}}},
 "layer":[
  {"mark":{"type":"area","interpolate":"monotone","opacity":0.35},"encoding":{"y":{"field":"lo","type":"quantitative","stack":null,"scale":{"type":"log","domain":[0.1,1.45],"nice":false},"axis":{"values":[0.1,1],"labelExpr":"datum.value>=1?'10⁰':'10⁻¹'","title":"‖ρ̂ − ρ*‖²F"}},"y2":{"field":"hi"},"fill":{"field":"m","type":"nominal","scale":{"domain":["μ = 0","μ = 1/8","μ = 1/4","μ = 1/3","μ = 3/4","μ = μ*"],"range":["#a8ecec","#a8b89a","#9c9cf5","#c9a6f0","#b8b8b8","#f4a6d0"]},"legend":{"orient":"none","legendX":4,"legendY":58,"title":null}}}},
  {"mark":{"type":"line","interpolate":"monotone","strokeWidth":1.5},"encoding":{"y":{"field":"y","type":"quantitative","scale":{"type":"log","domain":[0.1,1.45],"nice":false}},"color":{"field":"m","type":"nominal","scale":{"domain":["μ = 0","μ = 1/8","μ = 1/4","μ = 1/3","μ = 3/4","μ = μ*"],"range":["#74a9cf","#3d7a16","#1a1ae6","#8c42d6","#000000","#a84a1e"]},"legend":{"orient":"none","legendX":4,"legendY":58,"title":null}}}}
 ]},
{"width":134,"height":140,"transform":[{"filter":"datum.p==2"}],
 "encoding":{"x":{"field":"x","type":"quantitative","scale":{"domain":[-50,1050],"nice":false,"zero":false},"axis":{"values":[0,500,1000],"format":"d","title":"Iterations"}}},
 "layer":[
  {"mark":{"type":"area","interpolate":"monotone","opacity":0.35},"encoding":{"y":{"field":"lo","type":"quantitative","stack":null,"scale":{"type":"log","domain":[0.1,1.45],"nice":false},"axis":{"values":[0.1,1],"labelExpr":"datum.value>=1?'10⁰':'10⁻¹'","title":"‖ρ̂ − ρ*‖²F"}},"y2":{"field":"hi"},"fill":{"field":"m","type":"nominal","scale":{"domain":["μ = 0","μ = 1/8","μ = 1/4","μ = 1/3","μ = 3/4","μ = μ*"],"range":["#a8ecec","#a8b89a","#9c9cf5","#c9a6f0","#b8b8b8","#f4a6d0"]},"legend":{"orient":"none","legendX":6,"legendY":60,"title":null}}}},
  {"mark":{"type":"line","interpolate":"monotone","strokeWidth":1.5},"encoding":{"y":{"field":"y","type":"quantitative","scale":{"type":"log","domain":[0.1,1.45],"nice":false}},"color":{"field":"m","type":"nominal","scale":{"domain":["μ = 0","μ = 1/8","μ = 1/4","μ = 1/3","μ = 3/4","μ = μ*"],"range":["#74a9cf","#3d7a16","#1a1ae6","#8c42d6","#000000","#a84a1e"]},"legend":{"orient":"none","legendX":6,"legendY":60,"title":null}}}}
 ]},
{"width":134,"height":140,"transform":[{"filter":"datum.p==3"}],
 "encoding":{"x":{"field":"x","type":"quantitative","scale":{"domain":[-13,275],"nice":false,"zero":false},"axis":{"values":[0,100,200],"title":"Iterations"}}},
 "layer":[
  {"mark":{"type":"area","interpolate":"monotone","opacity":0.35},"encoding":{"y":{"field":"lo","type":"quantitative","stack":null,"scale":{"type":"log","domain":[0.1,1.45],"nice":false},"axis":{"values":[0.1,1],"labelExpr":"datum.value>=1?'10⁰':'10⁻¹'","title":"‖ρ̂ − ρ*‖²F"}},"y2":{"field":"hi"},"fill":{"field":"m","type":"nominal","scale":{"domain":["μ = 0","μ = 1/8","μ = 1/4","μ = 1/3","μ = 3/4","μ = μ*"],"range":["#a8ecec","#a8b89a","#9c9cf5","#c9a6f0","#b8b8b8","#f4a6d0"]},"legend":{"orient":"none","legendX":4,"legendY":62,"title":null}}}},
  {"mark":{"type":"line","interpolate":"monotone","strokeWidth":1.5},"encoding":{"y":{"field":"y","type":"quantitative","scale":{"type":"log","domain":[0.1,1.45],"nice":false}},"color":{"field":"m","type":"nominal","scale":{"domain":["μ = 0","μ = 1/8","μ = 1/4","μ = 1/3","μ = 3/4","μ = μ*"],"range":["#74a9cf","#3d7a16","#1a1ae6","#8c42d6","#000000","#a84a1e"]},"legend":{"orient":"none","legendX":4,"legendY":62,"title":null}}}}
 ]},
{"width":134,"height":136,"transform":[{"filter":"datum.p==4"}],
 "encoding":{"x":{"field":"x","type":"quantitative","scale":{"domain":[-10.6,222.6],"nice":false,"zero":false},"axis":{"values":[0,100,200],"title":"Iterations"}}},
 "layer":[
  {"mark":{"type":"area","interpolate":"monotone","opacity":0.35},"encoding":{"y":{"field":"lo","type":"quantitative","stack":null,"scale":{"type":"log","domain":[0.1,1.45],"nice":false},"axis":{"values":[0.1,1],"labelExpr":"datum.value>=1?'10⁰':'10⁻¹'","title":"‖ρ̂ − ρ*‖²F"}},"y2":{"field":"hi"},"fill":{"field":"m","type":"nominal","scale":{"domain":["μ = 0","μ = 1/8","μ = 1/4","μ = 1/3","μ = 3/4","μ = μ*"],"range":["#a8ecec","#a8b89a","#9c9cf5","#c9a6f0","#b8b8b8","#f4a6d0"]},"legend":{"orient":"none","legendX":4,"legendY":55,"title":null}}}},
  {"mark":{"type":"line","interpolate":"monotone","strokeWidth":1.5},"encoding":{"y":{"field":"y","type":"quantitative","scale":{"type":"log","domain":[0.1,1.45],"nice":false}},"color":{"field":"m","type":"nominal","scale":{"domain":["μ = 0","μ = 1/8","μ = 1/4","μ = 1/3","μ = 3/4","μ = μ*"],"range":["#74a9cf","#3d7a16","#1a1ae6","#8c42d6","#000000","#a84a1e"]},"legend":{"orient":"none","legendX":4,"legendY":55,"title":null}}}}
 ]},
{"width":134,"height":136,"transform":[{"filter":"datum.p==5"}],
 "encoding":{"x":{"field":"x","type":"quantitative","scale":{"domain":[-50,1050],"nice":false,"zero":false},"axis":{"values":[0,500,1000],"format":"d","title":"Iterations"}}},
 "layer":[
  {"mark":{"type":"area","interpolate":"monotone","opacity":0.35},"encoding":{"y":{"field":"lo","type":"quantitative","stack":null,"scale":{"type":"log","domain":[0.1,1.45],"nice":false},"axis":{"values":[0.1,1],"labelExpr":"datum.value>=1?'10⁰':'10⁻¹'","title":"‖ρ̂ − ρ*‖²F"}},"y2":{"field":"hi"},"fill":{"field":"m","type":"nominal","scale":{"domain":["μ = 0","μ = 1/8","μ = 1/4","μ = 1/3","μ = 3/4","μ = μ*"],"range":["#a8ecec","#a8b89a","#9c9cf5","#c9a6f0","#b8b8b8","#f4a6d0"]},"legend":{"orient":"none","legendX":3,"legendY":29,"title":null}}}},
  {"mark":{"type":"line","interpolate":"monotone","strokeWidth":1.5},"encoding":{"y":{"field":"y","type":"quantitative","scale":{"type":"log","domain":[0.1,1.45],"nice":false}},"color":{"field":"m","type":"nominal","scale":{"domain":["μ = 0","μ = 1/8","μ = 1/4","μ = 1/3","μ = 3/4","μ = μ*"],"range":["#74a9cf","#3d7a16","#1a1ae6","#8c42d6","#000000","#a84a1e"]},"legend":{"orient":"none","legendX":3,"legendY":29,"title":null}}}}
 ]},
{"width":134,"height":136,"transform":[{"filter":"datum.p==6"}],
 "encoding":{"x":{"field":"x","type":"quantitative","scale":{"domain":[-12,254],"nice":false,"zero":false},"axis":{"values":[0,100,200],"title":"Iterations"}}},
 "layer":[
  {"mark":{"type":"area","interpolate":"monotone","opacity":0.35},"encoding":{"y":{"field":"lo","type":"quantitative","stack":null,"scale":{"type":"log","domain":[0.1,1.45],"nice":false},"axis":{"values":[0.1,1],"labelExpr":"datum.value>=1?'10⁰':'10⁻¹'","title":"‖ρ̂ − ρ*‖²F"}},"y2":{"field":"hi"},"fill":{"field":"m","type":"nominal","scale":{"domain":["μ = 0","μ = 1/8","μ = 1/4","μ = 1/3","μ = 3/4","μ = μ*"],"range":["#a8ecec","#a8b89a","#9c9cf5","#c9a6f0","#b8b8b8","#f4a6d0"]},"legend":{"orient":"top-right","offset":2,"title":null}}}},
  {"mark":{"type":"line","interpolate":"monotone","strokeWidth":1.5},"encoding":{"y":{"field":"y","type":"quantitative","scale":{"type":"log","domain":[0.1,1.45],"nice":false}},"color":{"field":"m","type":"nominal","scale":{"domain":["μ = 0","μ = 1/8","μ = 1/4","μ = 1/3","μ = 3/4","μ = μ*"],"range":["#74a9cf","#3d7a16","#1a1ae6","#8c42d6","#000000","#a84a1e"]},"legend":{"orient":"top-right","offset":2,"title":null}}}}
 ]}
],
"config":{
 "view":{"stroke":"#333","strokeWidth":1},
 "axis":{"labelFont":"DejaVu Serif","labelFontSize":9,"labelColor":"#222","titleFont":"DejaVu Sans","titleFontSize":10,"titleFontWeight":"normal","titleColor":"#222","gridColor":"#c8c8c8","tickColor":"#333","domainColor":"#333","tickSize":3,"labelPadding":2,"titlePadding":2},
 "axisY":{"titleFont":"DejaVu Serif","titleFontStyle":"italic","labelAngle":-90,"labelAlign":"center","labelBaseline":"bottom","titlePadding":4},
 "legend":{"labelFont":"DejaVu Serif","labelFontStyle":"italic","labelFontSize":7.5,"labelColor":"#333","symbolType":"stroke","symbolStrokeWidth":1.6,"symbolSize":180,"symbolOpacity":1,"fillColor":"rgba(255,255,255,0.8)","strokeColor":"#cccccc","cornerRadius":3,"padding":4,"rowPadding":0,"labelOffset":6}
}
}
